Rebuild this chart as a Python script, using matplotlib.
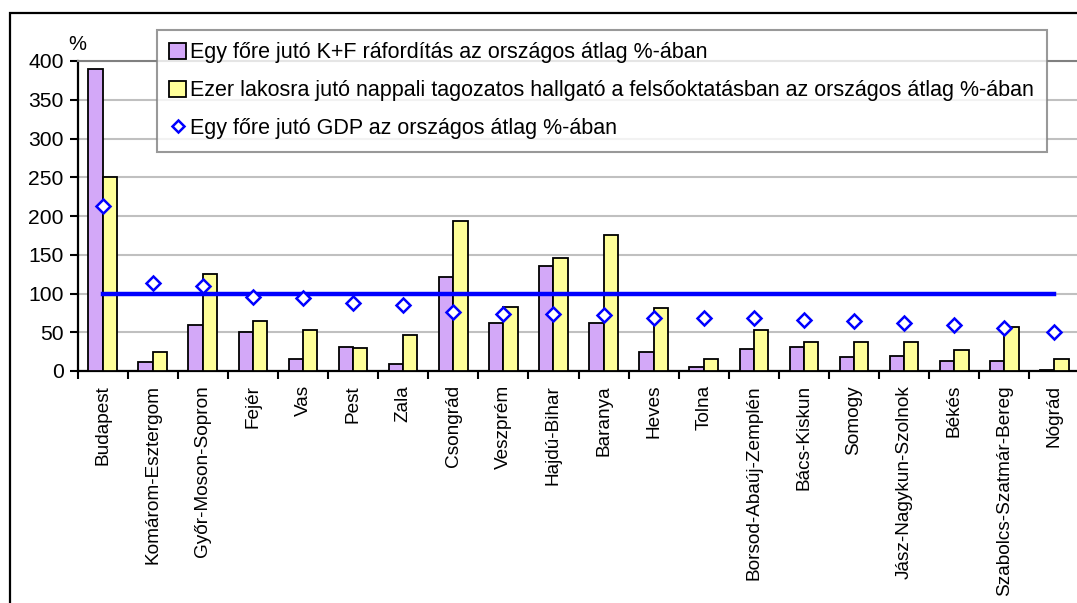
import numpy as np
import matplotlib.pyplot as plt
from matplotlib.patches import Patch, Rectangle
from matplotlib.lines import Line2D

plt.rcParams['font.family'] = ['Liberation Sans', 'DejaVu Sans']

counties = ["Budapest", "Komárom-Esztergom", "Győr-Moson-Sopron", "Fejér", "Vas", "Pest",
            "Zala", "Csongrád", "Veszprém", "Hajdú-Bihar", "Baranya", "Heves", "Tolna",
            "Borsod-Abaúj-Zemplén", "Bács-Kiskun", "Somogy", "Jász-Nagykun-Szolnok",
            "Békés", "Szabolcs-Szatmár-Bereg", "Nógrád"]
rd_spend = [390, 11, 60, 50, 15, 31, 9, 121, 62, 136, 62, 25, 5, 29, 31, 18, 19, 13, 13, 1]
students = [250, 25, 125, 64, 53, 30, 46, 194, 83, 146, 176, 81, 16, 53, 38, 37, 38, 27, 57, 16]
gdp = [213, 114, 110, 95, 94, 88, 85, 76, 74, 74, 72, 69, 69, 68, 66, 65, 62, 59, 55, 50]
national_avg = 100

labels = ["Egy főre jutó K+F ráfordítás az országos átlag %-ában",
          "Ezer lakosra jutó nappali tagozatos hallgató a felsőoktatásban az országos átlag %-ában",
          "Egy főre jutó GDP az országos átlag %-ában"]

W, H = 1077, 603
fig = plt.figure(figsize=(W / 100, H / 100), dpi=100)

# outer frame (cut off at right and bottom in the original)
fig.patches.append(Rectangle((9.5 / W, -0.05), 1.2, 1 - 13 / H + 0.05, transform=fig.transFigure,
                             fill=False, edgecolor='black', linewidth=1.6))

ax = fig.add_axes([77.5 / W, 232 / H, 1002 / W, 310 / H])

x = np.arange(len(counties))
bw = 0.286
ax.bar(x - bw / 2, rd_spend, bw, color='#d3a8f8', edgecolor='black', linewidth=1.3, zorder=3)
ax.bar(x + bw / 2, students, bw, color='#ffff99', edgecolor='black', linewidth=1.3, zorder=3)
ax.plot([x[0], x[-1]], [national_avg, national_avg], color='#0000ff', linewidth=3.2, zorder=4)
ax.plot(x, gdp, linestyle='none', marker='D', markersize=7.5, markerfacecolor='white',
        markeredgecolor='#0000ff', markeredgewidth=1.8, zorder=5)

ax.set_xlim(-0.5, len(counties) - 0.5)
ax.set_ylim(0, 400)
ax.set_yticks(np.arange(0, 401, 50))
ax.yaxis.grid(True, color='#c0c0c0', linewidth=1.5, zorder=0)
ax.set_axisbelow(True)

ax.set_xticks(np.arange(-0.5, len(counties), 1))
ax.set_xticklabels([])
ax.set_xticks(x, minor=True)
ax.set_xticklabels(counties, minor=True, rotation=90, fontsize=13.7, va='top', ha='center')
ax.tick_params(axis='x', which='major', direction='out', length=6, width=1.5)
ax.tick_params(axis='x', which='minor', length=0, pad=10)
ax.tick_params(axis='y', direction='out', length=6, width=1.5, labelsize=15.2, pad=4)

for s in ['left', 'bottom']:
    ax.spines[s].set_linewidth(1.6)
ax.spines['top'].set_color('#808080')
ax.spines['top'].set_linewidth(1.5)
ax.spines['right'].set_visible(False)

ax.text(0, 1.052, '%', transform=ax.transAxes, fontsize=14.5, ha='center', va='center')

handles = [Patch(facecolor='#d3a8f8', edgecolor='black', linewidth=1.3),
           Patch(facecolor='#ffff99', edgecolor='black', linewidth=1.3),
           Line2D([], [], linestyle='none', marker='D', markersize=6.5, markerfacecolor='white',
                  markeredgecolor='#0000ff', markeredgewidth=1.8)]
leg = ax.legend(handles, labels, loc='upper left', bbox_to_anchor=(157 / W, 1 - 30 / H),
                bbox_transform=fig.transFigure, borderaxespad=0, fontsize=15.5,
                frameon=True, fancybox=False, handlelength=0.75, handleheight=0.75,
                handletextpad=0.22, labelspacing=0.78, borderpad=0.58)
leg.get_frame().set_edgecolor('#808080')
leg.get_frame().set_linewidth(1.5)
leg.set_zorder(10)

fig.savefig('out.png', dpi=100)
